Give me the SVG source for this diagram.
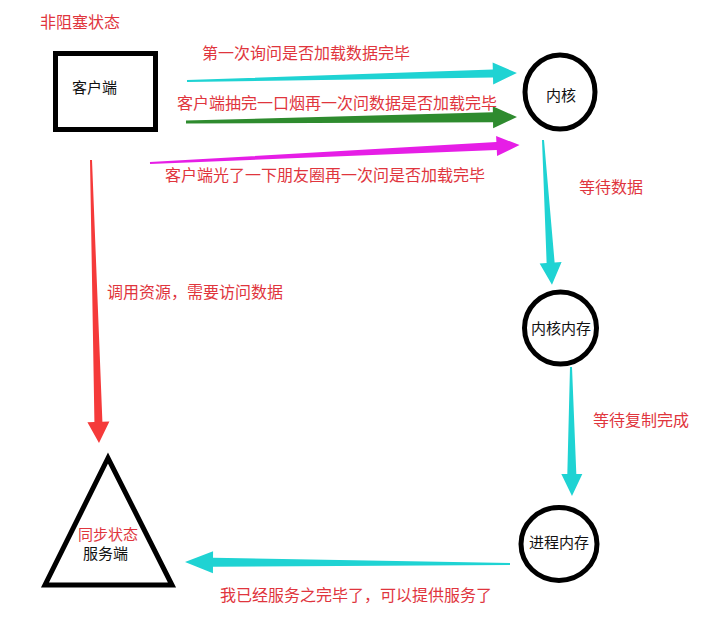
<svg xmlns="http://www.w3.org/2000/svg" width="717" height="624" viewBox="0 0 717 624">
<style>
.red{font-family:"Noto Sans CJK SC","Noto Sans",sans-serif;font-size:16px;fill:#e0353d}
.blk{font-family:"Noto Sans CJK SC","Noto Sans",sans-serif;font-size:15px;fill:#111}
.shape{fill:#fff;stroke:#000;stroke-width:5}
</style>
<rect width="717" height="624" fill="#fff"/>
<g id="connectors">
  <g transform="translate(187,81) rotate(-1.39)"><polygon fill="#1fd3d3" points="0,-1 306,-4 306,-11 330,0 306,11 306,4 0,1"/></g>
  <g transform="translate(186,122) rotate(-0.87)"><polygon fill="#2e8b2e" points="0,-1.5 307,-5 307,-11 331,0 307,11 307,5 0,1.5"/></g>
  <g transform="translate(150,163) rotate(-2.79)"><polygon fill="#e61ee6" points="0,-1 347,-4 347,-10 370,0 347,10 347,4 0,1"/></g>
  <g transform="translate(543,140) rotate(86.45)"><polygon fill="#1fd3d3" points="0,-1 123,-4 123,-11 145,0 123,11 123,4 0,1"/></g>
  <g transform="translate(571,367) rotate(89.56)"><polygon fill="#1fd3d3" points="0,-1 107,-4.5 107,-10.5 129,0 107,10.5 107,4.5 0,1"/></g>
  <g transform="translate(510,564) rotate(180.35)"><polygon fill="#1fd3d3" points="0,-1 297,-4.5 297,-11 325,0 297,11 297,4.5 0,1"/></g>
  <g transform="translate(91,160) rotate(88.38)"><polygon fill="#f53a3a" points="0,-1 262,-4 262,-11 283,0 262,11 262,4 0,1"/></g>
  <text class="red" x="202" y="59">第一次询问是否加载数据完毕</text>
  <text class="red" x="177" y="109">客户端抽完一口烟再一次问数据是否加载完毕</text>
  <text class="red" x="165" y="181">客户端光了一下朋友圈再一次问是否加载完毕</text>
  <text class="red" x="579" y="193">等待数据</text>
  <text class="red" x="107" y="298">调用资源，需要访问数据</text>
  <text class="red" x="593" y="426">等待复制完成</text>
  <text class="red" x="220" y="601">我已经服务之完毕了，可以提供服务了</text>
</g>
<text class="red" x="40" y="28">非阻塞状态</text>
<g id="client">
  <rect class="shape" x="55.5" y="53.5" width="100" height="76"/>
  <text class="blk" x="72" y="93">客户端</text>
</g>
<g id="kernel">
  <ellipse class="shape" cx="560" cy="92" rx="35" ry="37"/>
  <text class="blk" x="546" y="101">内核</text>
</g>
<g id="kernel-memory">
  <circle class="shape" cx="560.5" cy="328" r="36"/>
  <text class="blk" x="531" y="334">内核内存</text>
</g>
<g id="process-memory">
  <ellipse class="shape" cx="559" cy="544" rx="38" ry="36.5"/>
  <text class="blk" x="529" y="548">进程内存</text>
</g>
<g id="server">
  <polygon class="shape" points="108,458 45,585 172,585" stroke-linejoin="miter"/>
  <text class="red" style="font-size:15px" x="78" y="540">同步状态</text>
  <text class="blk" x="83" y="559">服务端</text>
</g>
</svg>
